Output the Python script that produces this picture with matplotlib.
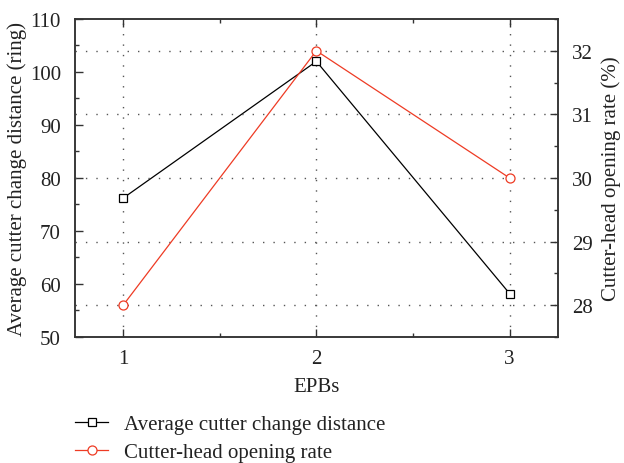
import matplotlib.pyplot as plt
from matplotlib.ticker import MultipleLocator

plt.rcParams['font.family'] = ['Liberation Serif', 'DejaVu Serif']

epbs = [1, 2, 3]
tick_labels = ['1', '2', '3']
avg_distance = [76.2, 102.0, 58.2]
opening_rate = [28.0, 32.0, 30.0]

red = '#ee3b24'

fig = plt.figure(figsize=(6.24, 4.64), dpi=100)
ax = fig.add_axes([0.12, 0.2716, 0.774, 0.6854])
ax2 = ax.twinx()

l1, = ax.plot(epbs, avg_distance, color='black', lw=0.9, marker='s',
              markersize=6, markerfacecolor='white', markeredgewidth=0.9,
              label='Average cutter change distance', zorder=3)
l2, = ax2.plot(epbs, opening_rate, color=red, lw=0.9, marker='o',
               markersize=6.5, markerfacecolor='white', markeredgewidth=0.9,
               label='Cutter-head opening rate', zorder=3)

ax.set_xlim(0.75, 3.25)
ax.set_ylim(50, 110)
ax2.set_ylim(27.5, 32.5)
ax.set_xticks(epbs)
ax.set_xticklabels(tick_labels)
ax.xaxis.set_minor_locator(MultipleLocator(0.5))
ax.yaxis.set_major_locator(MultipleLocator(10))
ax.yaxis.set_minor_locator(MultipleLocator(5))
ax2.yaxis.set_major_locator(MultipleLocator(1))
ax2.yaxis.set_minor_locator(MultipleLocator(0.5))

# dotted grid: vertical at x ticks, horizontal at right-axis ticks
for x in epbs:
    ax.axvline(x, color='#555555', ls=(0, (1, 6.5)), lw=1.0, zorder=1)
for y in [28, 29, 30, 31, 32]:
    ax2.axhline(y, color='#555555', ls=(0, (1, 6.5)), lw=1.0, zorder=1)

ax.tick_params(axis='both', which='both', direction='in', top=True,
               labelsize=15, width=1, colors='#333333', labelcolor='#222222')
ax.tick_params(axis='y', which='both', pad=10)
ax.tick_params(axis='x', which='both', pad=9)
ax.tick_params(which='major', length=6)
ax.tick_params(which='minor', length=3)
ax2.tick_params(axis='y', which='both', direction='in', labelsize=15,
                width=1, colors='#333333', labelcolor='#222222', pad=10)
ax2.tick_params(which='major', length=6)
ax2.tick_params(which='minor', length=3)
for a in (ax, ax2):
    for s in a.spines.values():
        s.set_color('#333333')
        s.set_linewidth(1.1)

ax.set_xlabel('EPBs', fontsize=15, color='#222222', labelpad=6)
ax.set_ylabel('Average cutter change distance (ring)', fontsize=15,
              color='#222222', labelpad=2)
ax2.set_ylabel('Cutter-head opening rate (%)', fontsize=15,
               color='#222222', labelpad=6)

fig.legend([l1, l2], [l1.get_label(), l2.get_label()],
           loc='upper left', bbox_to_anchor=(0.09, 0.145), frameon=False,
           fontsize=15, handlelength=1.6, handletextpad=0.75,
           labelspacing=0.42, labelcolor='#222222')

fig.savefig('out.png', dpi=100)
